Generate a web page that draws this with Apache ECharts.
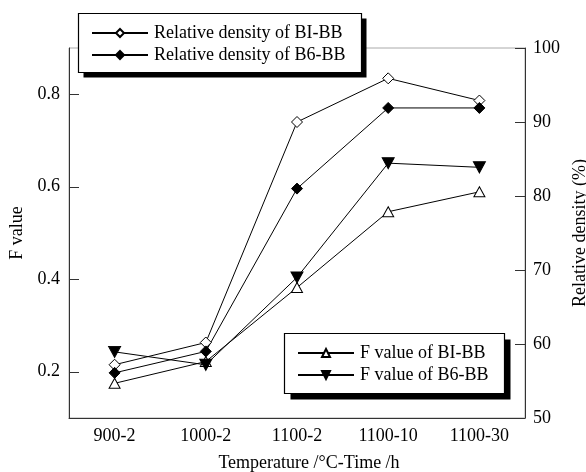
<!DOCTYPE html>
<html>
<head>
<meta charset="utf-8">
<script src="https://cdn.jsdelivr.net/npm/echarts@6/dist/echarts.min.js"></script>
<style>html,body{margin:0;padding:0;background:#fff}#c{width:586px;height:472px}</style>
</head>
<body>
<div id="c"></div>
<script>
var categories = ['900-2', '1000-2', '1100-2', '1100-10', '1100-30'];
var densityBI = [57.2, 60.2, 90.0, 95.9, 92.9];
var densityB6 = [56.1, 59.0, 81.0, 91.9, 91.9];
var fValueBI = [0.175, 0.222, 0.382, 0.546, 0.589];
var fValueB6 = [0.243, 0.215, 0.404, 0.651, 0.642];
var leftTicks = [0.2, 0.4, 0.6, 0.8];

var FONT = '"Liberation Serif", "Times New Roman", serif';
var FS = 18;
var chart = echarts.init(document.getElementById('c'), null, {renderer: 'canvas'});
var downTri = 'path://M0,0 L10,0 L5,9 Z';
var upTri = 'path://M5,0 L10,9 L0,9 Z';
function legendCfg(left, top, names) {
  return {
    orient: 'vertical', left: left, top: top, z: 20,
    data: names, itemWidth: 56, itemHeight: 10, itemGap: 4,
    padding: 0,
    textStyle: {fontFamily: FONT, fontSize: FS, color: '#000', padding: [0, 0, 0, 1]},
    selectedMode: false
  };
}
function boxGraphics(x, y, w, h, off) {
  return [
    {type: 'rect', z: 15, silent: true, shape: {x: x + off, y: y + off, width: w, height: h}, style: {fill: '#000'}},
    {type: 'rect', z: 16, silent: true, shape: {x: x, y: y, width: w, height: h}, style: {fill: '#fff', stroke: '#000', lineWidth: 1.2}}
  ];
}
chart.setOption({
  animation: false,
  backgroundColor: '#fff',
  grid: {left: 69, right: 61, top: 48, bottom: 54, outerBoundsMode: 'none', containLabel: false,
         show: true, borderColor: '#aaa', borderWidth: 1, backgroundColor: 'transparent'},
  graphic: boxGraphics(78.5, 13.5, 283, 59, 5).concat(boxGraphics(284.5, 333.5, 220, 60, 6)),
  legend: [
    legendCfg(91, 24, ['Relative density of BI-BB', 'Relative density of B6-BB']),
    legendCfg(297, 344, ['F value of BI-BB', 'F value of B6-BB'])
  ],
  xAxis: {
    type: 'category', data: categories, boundaryGap: true,
    name: 'Temperature /°C-Time /h', nameLocation: 'middle', nameGap: 36,
    nameTextStyle: {fontFamily: FONT, fontSize: FS, color: '#000', padding: [0, 0, 0, 24]},
    axisLine: {lineStyle: {color: '#333', width: 1}},
    axisTick: {inside: true, alignWithLabel: true, length: 10, lineStyle: {color: '#333'}},
    axisLabel: {fontFamily: FONT, fontSize: FS, color: '#000', margin: 9}
  },
  yAxis: [
    {
      type: 'value', min: 0.1, max: 0.9, position: 'left',
      name: 'F value', nameLocation: 'middle', nameGap: 41, nameRotate: 90,
      nameTextStyle: {fontFamily: FONT, fontSize: FS, color: '#000'},
      axisLine: {show: true, lineStyle: {color: '#333', width: 1}},
      axisTick: {show: true, inside: true, length: 10, customValues: leftTicks, lineStyle: {color: '#333'}},
      axisLabel: {fontFamily: FONT, fontSize: FS, color: '#000', margin: 9, customValues: leftTicks, formatter: function (v) { return v.toFixed(1); }},
      splitLine: {show: false}
    },
    {
      type: 'value', min: 50, max: 100, interval: 10, position: 'right',
      name: 'Relative density (%)', nameLocation: 'middle', nameGap: 40, nameRotate: 90,
      nameTextStyle: {fontFamily: FONT, fontSize: FS, color: '#000'},
      axisLine: {show: true, lineStyle: {color: '#333', width: 1}},
      axisTick: {show: true, inside: true, length: 10, lineStyle: {color: '#333'}},
      axisLabel: {fontFamily: FONT, fontSize: FS, color: '#000', margin: 8},
      splitLine: {show: false}
    }
  ],
  series: [
    {name: 'Relative density of BI-BB', type: 'line', yAxisIndex: 1, data: densityBI,
     symbol: 'diamond', symbolSize: 11, lineStyle: {color: '#000', width: 1},
     itemStyle: {color: '#fff', borderColor: '#000', borderWidth: 1}},
    {name: 'Relative density of B6-BB', type: 'line', yAxisIndex: 1, data: densityB6,
     symbol: 'diamond', symbolSize: 11, lineStyle: {color: '#000', width: 1},
     itemStyle: {color: '#000', borderColor: '#000', borderWidth: 1}},
    {name: 'F value of BI-BB', type: 'line', yAxisIndex: 0, data: fValueBI,
     symbol: upTri, symbolSize: [11, 10], lineStyle: {color: '#000', width: 1},
     itemStyle: {color: '#fff', borderColor: '#000', borderWidth: 1}},
    {name: 'F value of B6-BB', type: 'line', yAxisIndex: 0, data: fValueB6,
     symbol: downTri, symbolSize: [12, 11], lineStyle: {color: '#000', width: 1},
     itemStyle: {color: '#000', borderColor: '#000', borderWidth: 1}}
  ]
});
</script>
</body>
</html>
